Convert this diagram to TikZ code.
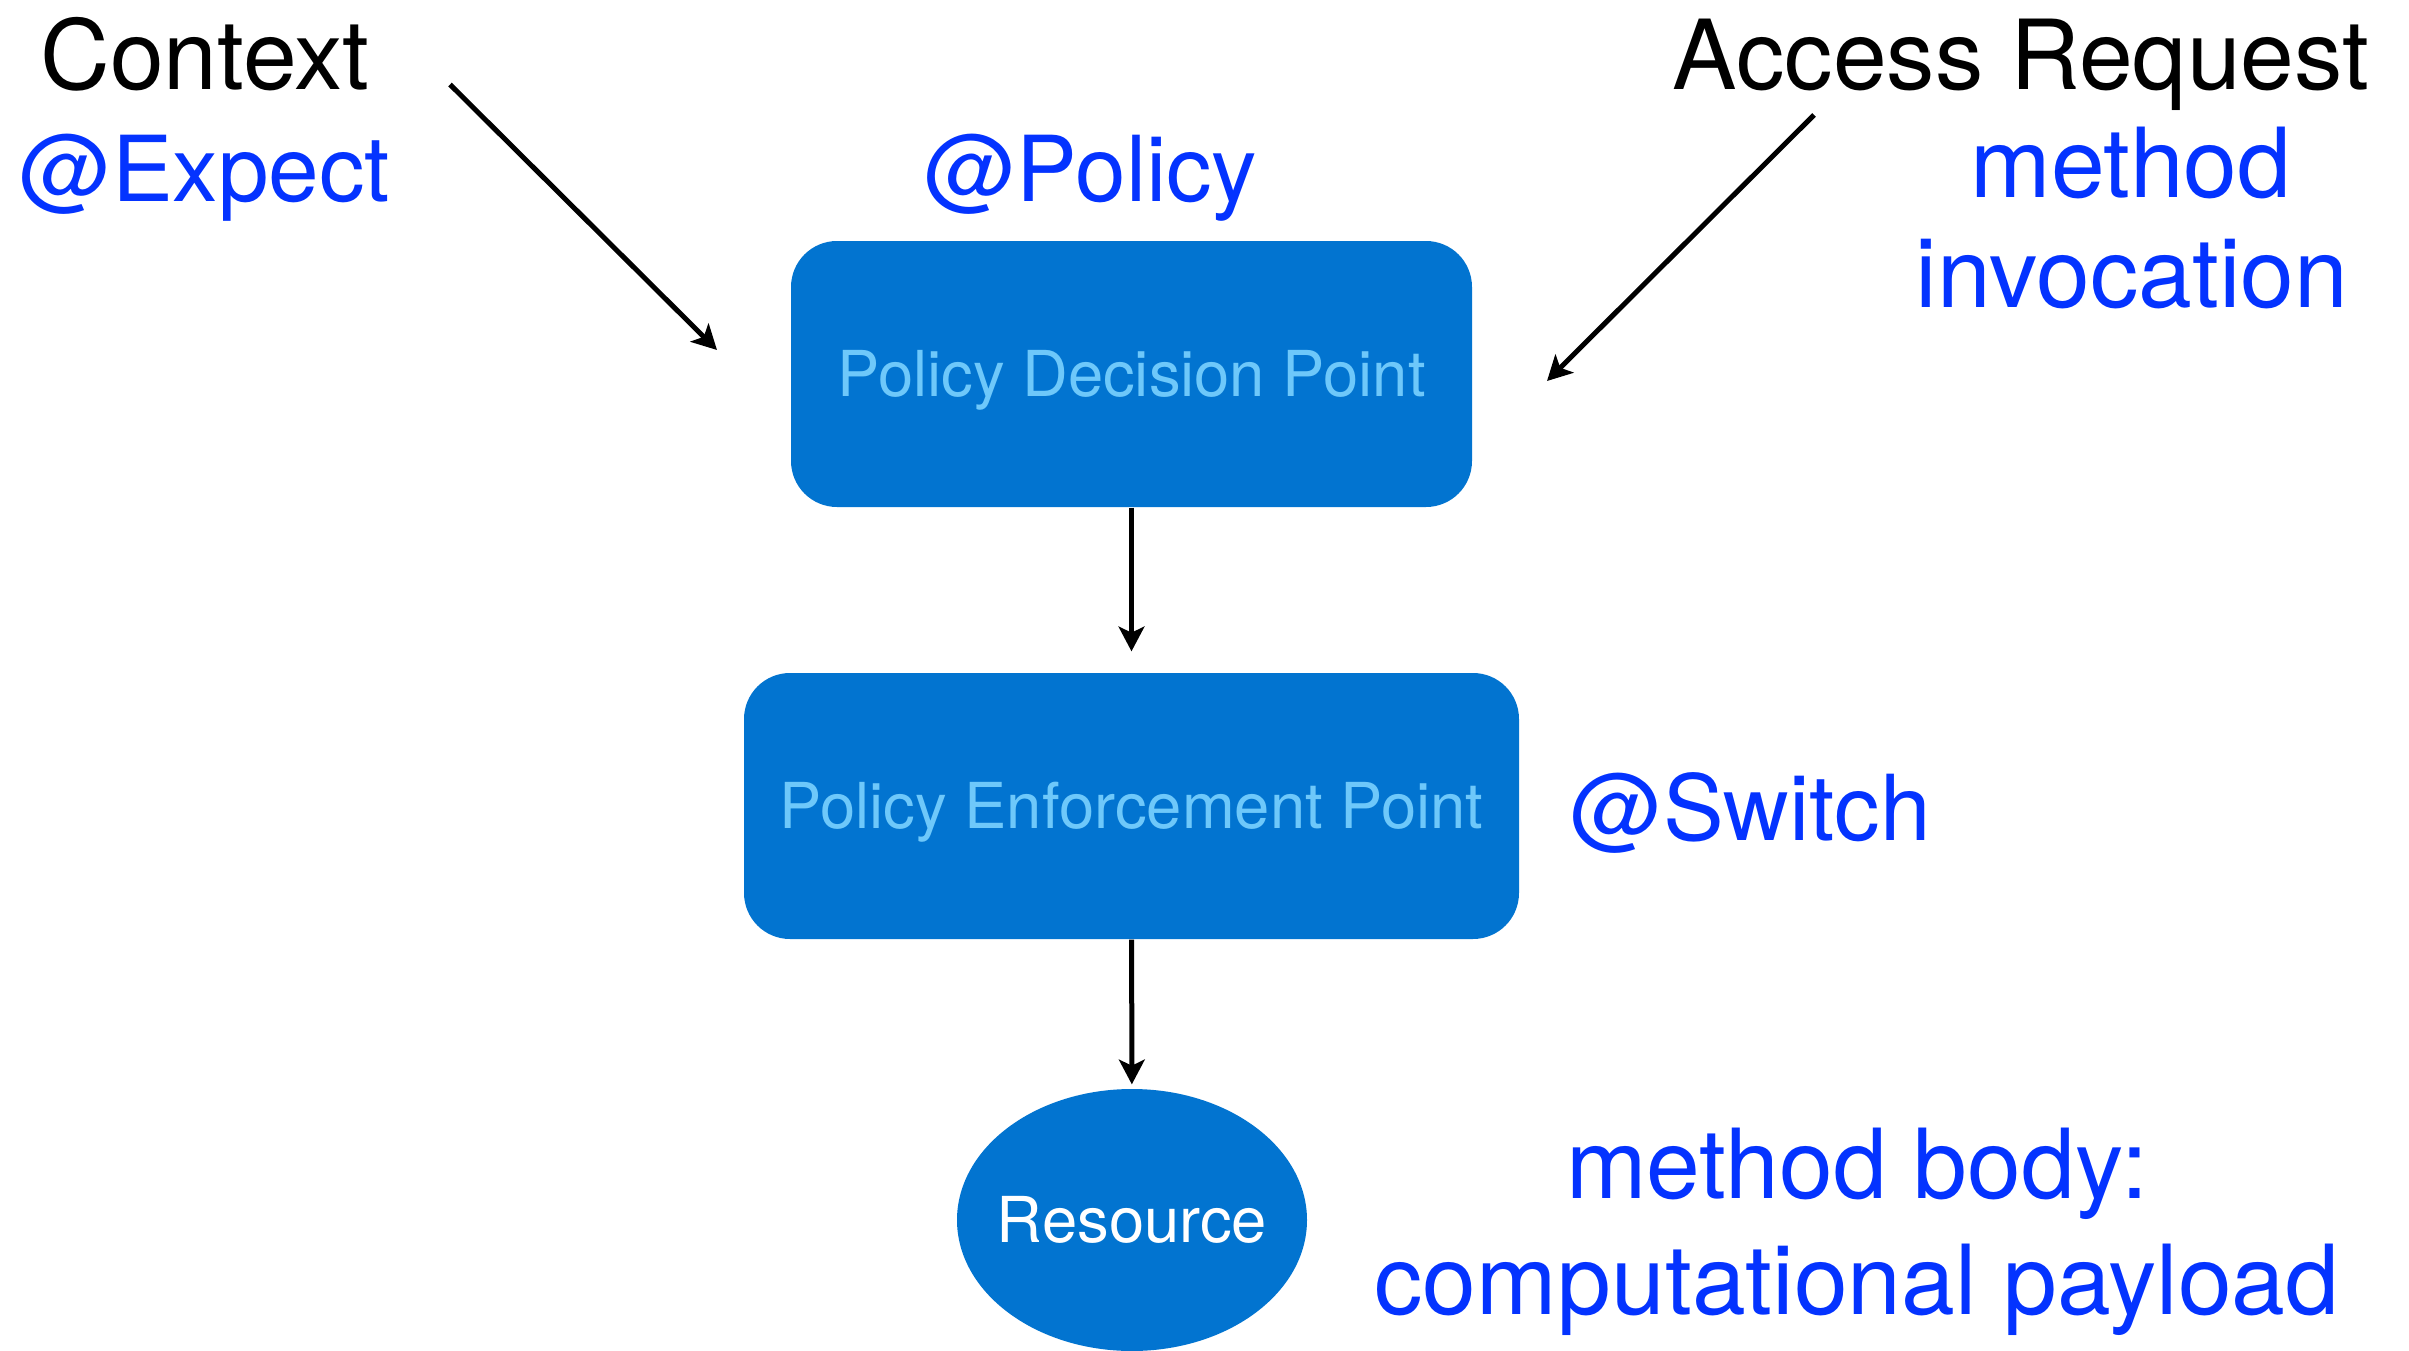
\documentclass[tikz,border=0pt]{standalone}
\usepackage{fontspec}
\setmainfont{TeX Gyre Heros}
\usetikzlibrary{shapes.geometric,arrows.meta}
\definecolor{boxfill}{RGB}{2,116,208}
\definecolor{boxtext}{RGB}{110,200,250}
\definecolor{lblue}{RGB}{4,51,255}
\begin{document}
\begin{tikzpicture}[x=0.3pt,y=-0.3pt,
 big/.style={font=\fontsize{29}{34}\selectfont, anchor=base, inner sep=0pt},
 atbig/.style={font=\fontsize{27.3}{32}\selectfont, anchor=base, inner sep=0pt, text=lblue},
 blk/.style={big,text=black},
 blu/.style={big,text=lblue},
 pbox/.style={draw=none, fill=boxfill, rounded corners=13.8pt, minimum height=79.8pt, text=boxtext, font=\fontsize{19}{23}\selectfont, text height=13.7pt, text depth=0pt, inner sep=0pt},
 res/.style={ellipse, fill=boxfill, minimum width=105pt, minimum height=78.6pt, inner sep=0pt},
 restext/.style={text=white, font=\fontsize{19}{23}\selectfont, text height=13.7pt, text depth=0pt, inner sep=0pt},
 arr/.style={-{Stealth[length=7.4pt,width=7.7pt,inset=1.8pt]}, line width=1.5pt}]
\useasboundingbox (0,0) rectangle (2409,1351);
\fill[white] (0,0) rectangle (2409,1351);
\node[pbox, minimum width=204.3pt] (pdp) at (1131.5,374) {Policy Decision Point};
\node[pbox, minimum width=232.5pt] (pep) at (1131.5,806) {Policy Enforcement Point};
\node[res] (res) at (1132,1220) {};
\node[restext] (rest) at (res.center) {Resource};
\node[blk] (ctx) at (205,89) {Context};
\node[atbig] (exp) at (205,201) {@Expect};
\node[atbig] (pol) at (1091,201) {@Policy};
\node[blk] (acc) at (2021,89) {Access Request};
\node[blu] (mth) at (2131,197) {method};
\node[blu] (inv) at (2132,307) {invocation};
\node[atbig, anchor=base west] (sw) at (1570,840) {@Switch};
\node[blu] (mb) at (1857,1198) {method body:};
\node[blu] (cp) at (1857,1314) {computational payload};
\coordinate (c1) at (450,84.5);
\coordinate (c2) at (717,350);
\draw[arr] (c1) -- (c2);
\coordinate (a1) at (1814,115);
\coordinate (a2) at (1547,381);
\draw[arr] (a1) -- (a2);
\draw[arr, shorten >=6.3pt] (pdp) -- (pep);
\draw[arr, shorten >=1.2pt] (pep) -- (res);
\end{tikzpicture}
\end{document}
